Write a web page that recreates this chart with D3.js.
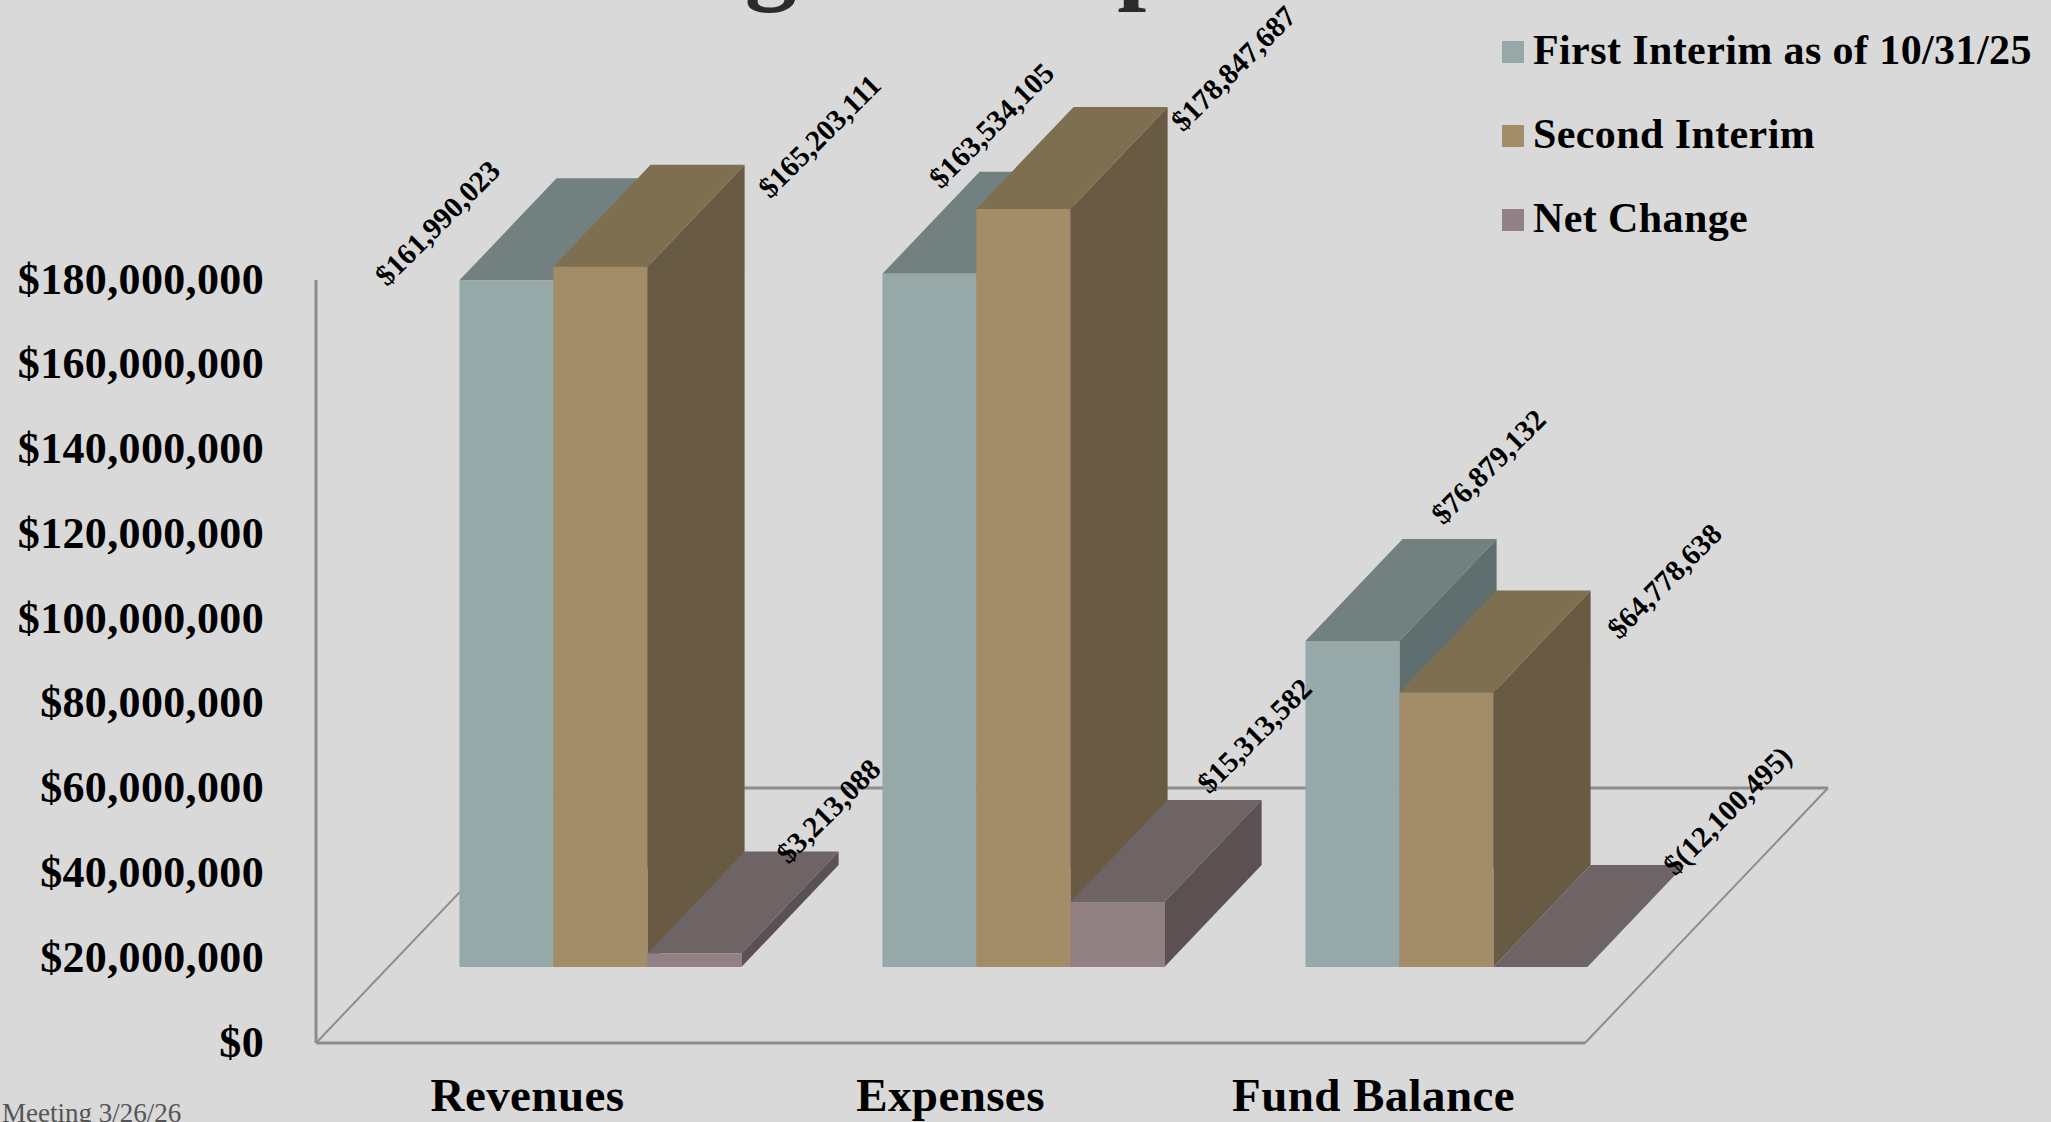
<!DOCTYPE html>
<html><head><meta charset="utf-8">
<script src="https://cdn.jsdelivr.net/npm/d3@7"></script>
<style>html,body{margin:0;padding:0;background:#d9d9d9;overflow:hidden}svg{display:block}text{font-family:"Liberation Serif",serif}</style>
</head><body><svg id="c" width="2051" height="1122"></svg>
<script>
const categories = ["Revenues","Expenses","Fund Balance"];
const seriesNames = ["First Interim as of 10/31/25","Second Interim","Net Change"];
const firstInterim = [161990023,163534105,76879132];
const secondInterim = [165203111,178847687,64778638];
const netChange = [3213088,15313582,-12100495];
const valueLabels = [["$161,990,023","$165,203,111","$3,213,088"],["$163,534,105","$178,847,687","$15,313,582"],["$76,879,132","$64,778,638","$(12,100,495)"]];
const yTicks = [0,20,40,60,80,100,120,140,160,180].map(d=>d*1e6);
const frontColors = ["#96a9a8","#a28d68","#918184"];
const topColors = ["#72807f","#7e6f51","#6e6365"];
const sideColors = ["#5f6e6e","#695b43","#5c5152"];
const labelOffsets = [[[-22,-57],[266,-130],[181,-142]],[[109,-148],[257,-140],[184,-166]],[[183,-174],[265,-111],[234,-156]]];

const W=2051,H=1122;
const svg=d3.select("#c");
const x0=316,x1=1585,yB=1043,yT=280,depthX=243,depthY=255;
const y=d3.scaleLinear().domain([0,180e6]).range([yB,yT]);
const xG=d3.scaleBand().domain(categories).range([x0,x1]);
const xS=d3.scaleBand().domain([0,1,2]).range([0,xG.bandwidth()]).paddingInner(0).paddingOuter(0.75);
const zF=0.3,zB=0.7;
const proj=(px,py,z)=>[px+z*depthX,py-z*depthY];
const poly=pts=>"M"+pts.map(p=>p.join(",")).join("L")+"Z";

svg.append("rect").attr("width",W).attr("height",H).attr("fill","#d9d9d9");
// Title (almost completely cut off at the top of the slide)
svg.append("text").attr("x",1006).attr("y",-10.5).attr("text-anchor","middle")
  .attr("font-size",104).attr("font-weight","bold").attr("fill","#2b2b2b").text("Budget Comparison");

// floor
const floorC="#8c8c8c";
const fl=[[x0,yB],[x1,yB],[x1+depthX,yB-depthY],[x0+depthX,yB-depthY]];
svg.append("line").attr("x1",fl[0][0]).attr("y1",fl[0][1]).attr("x2",fl[3][0]).attr("y2",fl[3][1]).attr("stroke",floorC).attr("stroke-width",2);
svg.append("line").attr("x1",fl[1][0]).attr("y1",fl[1][1]).attr("x2",fl[2][0]).attr("y2",fl[2][1]).attr("stroke",floorC).attr("stroke-width",2);
svg.append("line").attr("x1",fl[3][0]).attr("y1",fl[3][1]).attr("x2",fl[2][0]).attr("y2",fl[2][1]).attr("stroke",floorC).attr("stroke-width",3);
svg.append("line").attr("x1",fl[0][0]).attr("y1",fl[0][1]).attr("x2",fl[1][0]).attr("y2",fl[1][1]).attr("stroke",floorC).attr("stroke-width",3);
svg.append("line").attr("x1",x0).attr("y1",yT).attr("x2",x0).attr("y2",yB).attr("stroke",floorC).attr("stroke-width",3);

// bars
const series=[firstInterim,secondInterim,netChange];
const gBars=svg.append("g").attr("transform","translate(0,0.5)");
categories.forEach((c,ci)=>{
  series.forEach((s,si)=>{
    const v=Math.max(0,s[ci]);
    const l=xG(c)+xS(si), r=l+xS.bandwidth();
    const yt=y(v), yb=y(0);
    const A=proj(l,yt,zF),B=proj(r,yt,zF),C=proj(r,yb,zF),D=proj(l,yb,zF);
    const A2=proj(l,yt,zB),B2=proj(r,yt,zB),C2=proj(r,yb,zB);
    gBars.append("path").attr("d",poly([B,B2,C2,C])).attr("fill",sideColors[si]);
    gBars.append("path").attr("d",poly([A,A2,B2,B])).attr("fill",topColors[si]);
    if(v>0) gBars.append("path").attr("d",poly([A,B,C,D])).attr("fill",frontColors[si]);
  });
});

// axes
const ax=svg.append("g").attr("transform",`translate(264,-1)`)
  .call(d3.axisLeft(y).tickValues(yTicks).tickSize(0).tickPadding(0).tickFormat(d=>"$"+d3.format(",")(d)));
ax.select(".domain").remove();
ax.selectAll("text").attr("font-size",44).attr("font-weight","bold").attr("fill","#000").attr("font-family","Liberation Serif").style("letter-spacing","0.35px");
const bx=svg.append("g").attr("transform",`translate(0,1111)`)
  .call(d3.axisBottom(xG).tickSize(0).tickPadding(0));
bx.select(".domain").remove();
bx.selectAll("text").attr("dy",0).attr("font-size",47).attr("font-weight","bold").attr("fill","#000").attr("font-family","Liberation Serif").style("letter-spacing","0.4px");

// value labels
categories.forEach((c,ci)=>{
  series.forEach((s,si)=>{
    const l=xG(c)+xS(si);
    const a=proj(l,y(Math.max(0,s[ci])),zF);
    const o=labelOffsets[ci][si];
    svg.append("text").attr("transform",`translate(${a[0]+o[0]},${a[1]+o[1]}) rotate(-45)`)
      .attr("text-anchor","middle").attr("dominant-baseline","central")
      .attr("font-size",29.5).attr("font-weight","bold").attr("fill","#000").text(valueLabels[ci][si]);
  });
});

// legend
const legY=d3.scalePoint().domain(seriesNames).range([64,232]);
seriesNames.forEach((n,i)=>{
  svg.append("rect").attr("x",1502).attr("y",legY(n)-23).attr("width",22).attr("height",22).attr("fill",frontColors[i]);
  svg.append("text").attr("x",1533).attr("y",legY(n)).attr("font-size",42).attr("font-weight","bold").attr("fill","#000").style("letter-spacing","0.4px").text(n);
});

// footer
svg.append("text").attr("x",2).attr("y",1122).attr("font-size",27).attr("fill","#555").text("Meeting 3/26/26");
</script></body></html>
